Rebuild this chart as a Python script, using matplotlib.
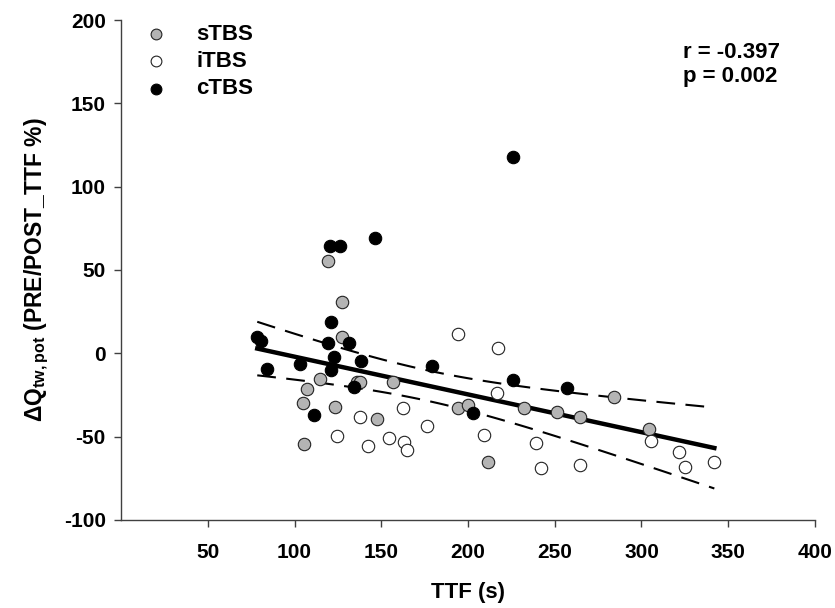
import numpy as np
import matplotlib.pyplot as plt

plt.rcParams['font.family'] = ['Liberation Sans', 'DejaVu Sans']
plt.rcParams['font.weight'] = 'bold'
plt.rcParams['axes.unicode_minus'] = False
plt.rcParams['mathtext.fontset'] = 'custom'
plt.rcParams['mathtext.rm'] = 'Liberation Sans'
plt.rcParams['mathtext.bf'] = 'Liberation Sans:bold'
plt.rcParams['mathtext.it'] = 'Liberation Sans:bold'

# sTBS (grey)
s_ttf = [119.1, 127.4, 127.4, 114.5, 107.2, 136.0, 138.0, 157.0, 105.0, 123.6,
         147.5, 105.3, 284.0, 194.4, 200.2, 232.4, 251.3, 264.4, 211.3, 304.2]
s_dq = [55.4, 31.0, 10.0, -15.6, -21.6, -17.0, -17.4, -17.0, -30.0, -32.0,
        -39.6, -54.4, -26.0, -33.0, -31.0, -33.0, -35.4, -38.4, -65.0, -45.6]

# iTBS (open)
i_ttf = [162.4, 137.5, 124.5, 142.3, 154.4, 163.2, 165.1, 176.2, 194.4, 217.0,
         216.5, 209.4, 239.0, 242.3, 264.4, 305.2, 321.8, 325.3, 342.0]
i_dq = [-33.0, -38.0, -49.6, -55.6, -51.0, -53.0, -58.0, -43.6, 11.4, 3.0,
        -24.0, -49.0, -54.0, -69.0, -67.0, -52.6, -59.0, -68.4, -65.0]

# cTBS (black)
c_ttf = [226.0, 146.1, 120.7, 126.4, 121.3, 78.5, 80.5, 131.2, 119.3, 122.6,
         138.5, 84.3, 103.4, 121.3, 134.5, 111.5, 179.0, 226.0, 257.2, 203.0]
c_dq = [118.0, 69.0, 64.4, 64.4, 19.0, 10.0, 7.6, 6.0, 6.0, -2.0,
        -4.4, -9.6, -6.6, -10.0, -20.4, -37.0, -7.6, -16.0, -21.0, -36.0]

# regression over all groups with 95% confidence band
x_all = np.array(s_ttf + i_ttf + c_ttf)
y_all = np.array(s_dq + i_dq + c_dq)
n = len(x_all)
slope, intercept = np.polyfit(x_all, y_all, 1)
resid = y_all - (slope * x_all + intercept)
se = np.sqrt(np.sum(resid ** 2) / (n - 2))
t_val = 2.0
xs = np.linspace(x_all.min(), x_all.max(), 100)
ys = slope * xs + intercept
ci = t_val * se * np.sqrt(1 / n + (xs - x_all.mean()) ** 2 / np.sum((x_all - x_all.mean()) ** 2))

fig = plt.figure(figsize=(8.35, 6.08), dpi=100)
ax = fig.add_axes([0.145, 0.145, 0.831, 0.822])

ax.plot(xs, ys, color='black', lw=3.2, zorder=2)
ax.plot(xs, ys + ci, color='black', lw=1.5, ls=(0, (9, 5)), zorder=2)
ax.plot(xs, ys - ci, color='black', lw=1.5, ls=(0, (9, 5)), zorder=2)

ax.scatter(s_ttf, s_dq, s=80, c='#b4b4b4', edgecolors='#222222', linewidths=0.8, zorder=3)
ax.scatter(i_ttf, i_dq, s=80, c='white', edgecolors='#222222', linewidths=0.8, zorder=3)
ax.scatter(c_ttf, c_dq, s=80, c='black', edgecolors='black', linewidths=0.8, zorder=3)

ax.set_xlim(0, 400)
ax.set_ylim(-100, 200)
ax.set_xticks([50, 100, 150, 200, 250, 300, 350, 400])
ax.set_yticks([-100, -50, 0, 50, 100, 150, 200])
ax.spines['top'].set_visible(False)
ax.spines['right'].set_visible(False)
for sp in ['left', 'bottom']:
    ax.spines[sp].set_color('#404040')
    ax.spines[sp].set_linewidth(1.0)
ax.tick_params(direction='out', length=5, width=1, color='#404040', labelsize=15, pad=12)
ax.tick_params(axis='y', pad=6)

ax.set_xlabel('TTF (s)', fontsize=16, fontweight='bold', labelpad=14)
ax.set_ylabel(r'$\Delta\mathbf{Q}_{\mathbf{tw,pot}}$ (PRE/POST_TTF %)', fontsize=16.5,
              fontweight='bold', labelpad=9)

# legend
hs = ax.scatter([], [], s=60, c='#b4b4b4', edgecolors='#222222', linewidths=0.8)
hi = ax.scatter([], [], s=60, c='white', edgecolors='#222222', linewidths=0.8)
hc = ax.scatter([], [], s=60, c='black', edgecolors='black', linewidths=0.8)
ax.legend([hs, hi, hc], ['sTBS', 'iTBS', 'cTBS'], loc='upper left', bbox_to_anchor=(0.022, 1.01),
          frameon=False, fontsize=16, handlelength=1.0, handletextpad=1.3,
          labelspacing=0.28, borderaxespad=0)

ax.text(0.81, 0.956, 'r = -0.397\np = 0.002', transform=ax.transAxes, fontsize=16,
        fontweight='bold', va='top', ha='left', linespacing=1.2)

fig.savefig('out.png', dpi=100)
